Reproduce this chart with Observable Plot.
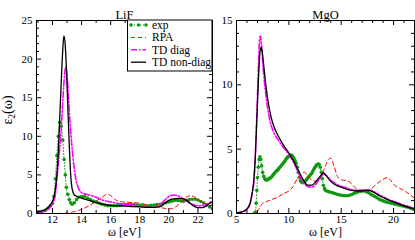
<!DOCTYPE html>
<html><head><meta charset="utf-8">
<script src="https://cdn.jsdelivr.net/npm/d3@7"></script>
<script src="https://cdn.jsdelivr.net/npm/@observablehq/plot@0.6"></script>
<style>
body{margin:0;background:#fff}
#c{position:relative;width:415px;height:240px;overflow:hidden}
#c svg{position:absolute;top:0}
</style></head>
<body><div id="c"></div>
<script>
const FONT = '"Liberation Serif","Times New Roman",serif';

// ---------- LiF ----------
const lifExp = [[10.9,0.15],[11.1,0.2],[11.3,0.3],[11.5,0.4],[11.7,0.7],[11.85,1.0],[12.0,1.3],[12.1,2.2],[12.2,4.5],[12.3,7.5],[12.4,10],[12.5,11.8],[12.6,11.3],[12.7,9.5],[12.8,7],[12.88,5],[12.95,3.4],[13.05,2.5],[13.15,1.8],[13.25,1.4],[13.35,1.2],[13.5,1.4],[13.65,1.8],[13.8,2.1],[14.0,2.2],[14.2,2.2],[14.4,2.0],[14.6,1.8],[14.8,1.6],[15.0,1.5],[15.2,1.35],[15.4,1.2],[15.6,1.1],[15.8,1.0],[16.0,1.0],[16.2,1.0],[16.4,1.0],[16.6,1.05],[16.8,1.1],[17.0,1.15],[17.2,1.2],[17.4,1.2],[17.6,1.15],[17.8,1.1],[18.0,1.05],[18.2,1.0],[18.4,1.0],[18.6,1.0],[18.8,1.05],[19.0,1.1],[19.2,1.15],[19.4,1.2],[19.6,1.3],[19.8,1.4],[20.0,1.5],[20.2,1.6],[20.4,1.7],[20.6,1.7],[20.8,1.65],[21.0,1.6],[21.2,1.7],[21.4,1.8],[21.6,1.85],[21.8,1.85],[22.0,1.75],[22.2,1.55],[22.4,1.35],[22.6,1.1],[22.8,0.85],[23.0,0.6]];
const lifRPA = [[10.9,0],[12,0],[13,0.05],[13.4,0.2],[13.8,0.4],[14.2,0.7],[14.6,1.1],[15.0,1.6],[15.4,2.1],[15.75,2.5],[16.0,2.3],[16.4,1.7],[16.8,1.5],[17.2,1.45],[17.7,1.4],[18.2,1.25],[18.7,1.05],[19.1,0.95],[19.6,0.7],[20.1,0.6],[20.5,0.9],[20.9,1.5],[21.2,2.1],[21.5,2.3],[21.8,2.1],[22.1,1.7],[22.5,1.3],[23,1.1]];
const lifDiag = [[10.9,0.1],[11.2,0.2],[11.5,0.35],[11.8,0.7],[12.0,1.3],[12.2,2.5],[12.3,4.5],[12.45,7.5],[12.6,11],[12.72,15],[12.83,18],[12.93,19],[13.0,18],[13.1,15],[13.2,12],[13.3,9.5],[13.45,6.5],[13.6,4.5],[13.8,3.2],[14.0,2.7],[14.3,2.5],[14.7,2.3],[15.0,2.1],[15.5,1.7],[16.0,1.5],[16.5,1.3],[17.0,1.2],[17.5,1.1],[18,1.0],[18.5,1.0],[19,1.0],[19.4,1.2],[19.7,1.7],[20.0,2.2],[20.3,2.4],[20.6,2.3],[21.0,1.9],[21.3,1.5],[21.6,1.2],[22.0,1.0],[22.4,1.1],[22.8,1.4],[23,1.6]];
const lifNonDiag = [[10.9,0.2],[11.2,0.3],[11.5,0.5],[11.8,1.0],[12.0,1.6],[12.15,2.6],[12.3,5],[12.4,8],[12.5,12.5],[12.6,17],[12.7,21],[12.78,23],[12.87,22],[12.95,19],[13.05,14],[13.15,9],[13.25,5],[13.35,3.2],[13.5,2.4],[13.7,2.2],[14.0,2.0],[14.5,1.7],[15.0,1.4],[15.5,1.2],[16.0,1.05],[16.5,1.0],[17,0.95],[17.5,0.9],[18,0.85],[18.5,0.8],[19,0.8],[19.4,0.9],[19.7,1.3],[20.0,1.7],[20.3,1.9],[20.7,1.95],[21.0,1.9],[21.3,1.6],[21.6,1.1],[21.9,0.8],[22.2,0.75],[22.5,0.9],[22.8,1.3],[23,1.5]];

// ---------- MgO ----------
const mgoExp = [[6.7,0.02],[6.8,0.1],[6.88,0.8],[6.94,1.8],[7.0,2.8],[7.08,3.6],[7.16,4.2],[7.24,4.4],[7.32,4.2],[7.4,3.7],[7.5,3.2],[7.6,2.9],[7.7,2.7],[7.8,2.6],[7.9,2.6],[8.0,2.65],[8.1,2.7],[8.2,2.75],[8.3,2.8],[8.4,2.9],[8.5,3.0],[8.6,3.1],[8.7,3.2],[8.8,3.3],[8.9,3.35],[9.0,3.45],[9.1,3.55],[9.2,3.65],[9.3,3.75],[9.4,3.85],[9.5,3.95],[9.6,4.05],[9.7,4.2],[9.8,4.3],[9.9,4.4],[10.0,4.45],[10.1,4.5],[10.2,4.55],[10.3,4.5],[10.4,4.4],[10.5,4.25],[10.6,4.1],[10.7,3.9],[10.8,3.6],[10.9,3.2],[11.0,2.8],[11.1,2.55],[11.2,2.45],[11.3,2.4],[11.4,2.4],[11.5,2.45],[11.6,2.55],[11.7,2.65],[11.8,2.75],[11.9,2.85],[12.0,2.95],[12.1,3.05],[12.2,3.15],[12.3,3.3],[12.4,3.45],[12.5,3.6],[12.6,3.7],[12.7,3.8],[12.8,3.85],[12.9,3.8],[13.0,3.6],[13.1,3.2],[13.2,2.7],[13.3,2.2],[13.4,1.95],[13.5,1.8],[13.6,1.75],[13.8,1.7],[14.0,1.65],[14.2,1.6],[14.4,1.55],[14.6,1.5],[14.8,1.45],[15.0,1.42],[15.2,1.4],[15.4,1.38],[15.6,1.38],[15.8,1.42],[16.0,1.48],[16.2,1.55],[16.4,1.62],[16.6,1.68],[16.8,1.72],[17.0,1.75],[17.2,1.75],[17.4,1.7],[17.6,1.62],[17.8,1.52],[18.0,1.42],[18.2,1.32],[18.4,1.22],[18.6,1.12],[18.8,1.05],[19.0,0.98],[19.2,0.92],[19.4,0.88],[19.6,0.84],[19.8,0.8],[20.0,0.76],[20.2,0.72],[20.4,0.68],[20.6,0.64],[20.8,0.6],[21.0,0.56],[21.2,0.52],[21.4,0.48],[21.6,0.42],[21.8,0.36],[22.0,0.3]];
const mgoRPA = [[5,0],[6.5,0],[6.9,0.05],[7.1,0.3],[7.4,0.7],[7.8,0.9],[8.4,1.1],[9.0,1.3],[9.5,1.55],[10.0,1.75],[10.4,2.1],[10.8,2.7],[11.2,3.1],[11.5,3.2],[11.8,2.9],[12.2,2.6],[12.6,2.5],[13.0,2.7],[13.4,3.5],[13.8,4.2],[14.0,4.3],[14.3,3.7],[14.7,2.8],[15.1,2.6],[15.6,2.55],[16.0,2.3],[16.4,1.95],[16.9,1.8],[17.4,1.75],[17.9,1.95],[18.4,2.3],[18.9,2.6],[19.4,2.8],[19.7,2.6],[20.1,2.2],[20.6,1.95],[21.1,1.75],[21.5,1.5],[22,1.2]];
const mgoDiag = [[5,0.05],[5.5,0.12],[6.0,0.35],[6.3,0.8],[6.5,1.6],[6.65,2.5],[6.8,4.5],[6.95,7.8],[7.1,11.5],[7.2,13.5],[7.28,13.8],[7.38,13.2],[7.5,11.8],[7.7,10],[7.9,8.6],[8.2,7.2],[8.5,6.4],[9.0,5.7],[9.5,5.1],[10.0,4.6],[10.5,3.9],[11.0,3.0],[11.4,2.4],[11.8,2.1],[12.2,2.05],[12.6,2.3],[13.0,2.8],[13.3,3.05],[13.6,2.95],[14.0,2.6],[14.5,2.3],[15.0,2.1],[15.5,2.0],[16.0,1.85],[16.5,1.8],[17.0,1.8],[17.5,1.85],[18.0,1.75],[18.5,1.5],[19.0,1.3],[19.5,1.1],[20.0,0.95],[20.5,0.8],[21.0,0.65],[21.5,0.5],[22,0.4]];
const mgoNonDiag = [[5,0.05],[5.5,0.12],[6.0,0.35],[6.3,0.8],[6.5,1.6],[6.65,2.5],[6.8,4.5],[6.95,7.5],[7.1,10.5],[7.25,12.6],[7.35,12.9],[7.45,12.6],[7.6,11.5],[7.8,10],[8.0,8.8],[8.3,7.5],[8.6,6.7],[9.0,6.0],[9.5,5.3],[10.0,4.7],[10.5,4.0],[11.0,3.2],[11.4,2.6],[11.8,2.2],[12.2,2.2],[12.6,2.5],[13.0,2.9],[13.3,3.15],[13.6,2.9],[14.0,2.5],[14.5,2.2],[15.0,2.05],[15.5,1.9],[16.0,1.8],[16.5,1.75],[17.0,1.75],[17.5,1.8],[18.0,1.7],[18.5,1.45],[19.0,1.25],[19.5,1.05],[20.0,0.9],[20.5,0.75],[21.0,0.6],[21.5,0.45],[22,0.35]];

// ---------- ticks ----------
const lifXTicks = [12,14,16,18,20,22];
const lifXMinor = [11,13,15,17,19,21,23];
const lifYTicks = [0,5,10,15,20,25];
const lifYMinor = d3.range(1,25).filter(v => v % 5 !== 0);
const mgoXTicks = [5,10,15,20];
const mgoXMinor = d3.range(6,23).filter(v => v % 5 !== 0);
const mgoYTicks = [0,5,10,15];
const mgoYMinor = d3.range(1,15).filter(v => v % 5 !== 0);

const seriesNames = ["exp","RPA","TD diag","TD non-diag"];
const STY = {
  exp: {stroke:"#0c9a0c", strokeWidth:1, strokeDasharray:"1,2"},
  RPA: {stroke:"#ff0000", strokeWidth:1, strokeDasharray:"4,3"},
  diag: {stroke:"#ff00ff", strokeWidth:1.6, strokeDasharray:"6,2,1.5,2"},
  non: {stroke:"#000000", strokeWidth:1.3}
};

const H = 240, MT = 20, MB = 27, IH = H - MT - MB;

function panel(o) {
  const {title, xDomain, yDomain, xTicks, xMinor, yTicks, yMinor, data, width, ml, mr} = o;
  const IW = width - ml - mr;
  const xt = (vals, len) => [
    Plot.tickX(vals, {x: d => d, insetTop: IH - len, stroke: "black"}),
    Plot.tickX(vals, {x: d => d, insetBottom: IH - len, stroke: "black"}),
  ];
  const yt = (vals, len) => [
    Plot.tickY(vals, {y: d => d, insetRight: IW - len, stroke: "black"}),
    Plot.tickY(vals, {y: d => d, insetLeft: IW - len, stroke: "black"}),
  ];
  const line = (arr, s) => Plot.line(arr, {x: d => d[0], y: d => d[1], curve: "monotone-x", clip: true, ...s});
  return Plot.plot({
    width, height: H, marginLeft: ml, marginRight: mr, marginTop: MT, marginBottom: MB,
    style: {fontFamily: FONT, fontSize: "11px", background: "transparent", color: "black", overflow: "visible"},
    x: {domain: xDomain, ticks: xTicks, tickSize: 0, tickPadding: 2, label: null},
    y: {domain: yDomain, ticks: yTicks, tickSize: 0, tickPadding: 4, label: null},
    marks: [
      line(data.exp, STY.exp),
      Plot.dot(data.exp, {x: d => d[0], y: d => d[1], r: 1.8, fill: STY.exp.stroke, stroke: "none", clip: true}),
      line(data.rpa, STY.RPA),
      line(data.diag, STY.diag),
      line(data.non, STY.non),
      ...xt(xTicks, 5), ...xt(xMinor, 3),
      ...yt(yTicks, 5), ...yt(yMinor, 3),
      Plot.frame({stroke: "black"}),
      Plot.text([title], {frameAnchor: "top", dy: -10, fontSize: 12.5, text: d => d}),
      Plot.text(["ω [eV]"], {frameAnchor: "bottom", dy: 22.5, fontSize: 12, text: d => d})
    ]
  });
}

const c = document.getElementById("c");
const p1 = panel({title: "LiF", xDomain: [10.9, 23], yDomain: [0, 25], xTicks: lifXTicks, xMinor: lifXMinor,
  yTicks: lifYTicks, yMinor: lifYMinor, data: {exp: lifExp, rpa: lifRPA, diag: lifDiag, non: lifNonDiag},
  width: 213, ml: 36, mr: 1});
p1.style.left = "0px";
c.appendChild(p1);
const p2 = panel({title: "MgO", xDomain: [5, 22], yDomain: [0, 15], xTicks: mgoXTicks, xMinor: mgoXMinor,
  yTicks: mgoYTicks, yMinor: mgoYMinor, data: {exp: mgoExp, rpa: mgoRPA, diag: mgoDiag, non: mgoNonDiag},
  width: 202, ml: 23, mr: 1});
p2.style.left = "213px";
c.appendChild(p2);

// legend and y label on LiF panel
const s1 = d3.select(p1);
const lg = s1.append("g").attr("font-family", FONT).attr("font-size", "11.5px").attr("text-anchor", "start");
lg.append("rect").attr("x", 127.5).attr("y", 20).attr("width", 84.5).attr("height", 51)
  .attr("fill", "white").attr("stroke", "black").attr("stroke-width", 1);
const styles = [STY.exp, STY.RPA, STY.diag, STY.non];
seriesNames.forEach((name, i) => {
  const y = 25 + i * 12.4;
  const s = styles[i];
  const ln = lg.append("line").attr("x1", 131).attr("x2", 146).attr("y1", y).attr("y2", y)
    .attr("stroke", s.stroke).attr("stroke-width", s.strokeWidth);
  if (s.strokeDasharray) ln.attr("stroke-dasharray", s.strokeDasharray);
  if (i === 0) [131, 138.5, 146].forEach(x => lg.append("circle").attr("cx", x).attr("cy", y).attr("r", 1.8).attr("fill", s.stroke));
  lg.append("text").attr("x", 152).attr("y", y).attr("dy", "0.35em").attr("text-anchor", "start").text(name);
});
const yl = s1.append("text").attr("font-family", FONT).attr("font-size", "14px")
  .attr("text-anchor", "middle").attr("transform", "translate(12,110) rotate(-90)");
yl.append("tspan").text("ε");
yl.append("tspan").attr("font-size", "9.5px").attr("dy", 3).text("2");
yl.append("tspan").attr("dy", -3).text("(ω)");
</script>
</body></html>
